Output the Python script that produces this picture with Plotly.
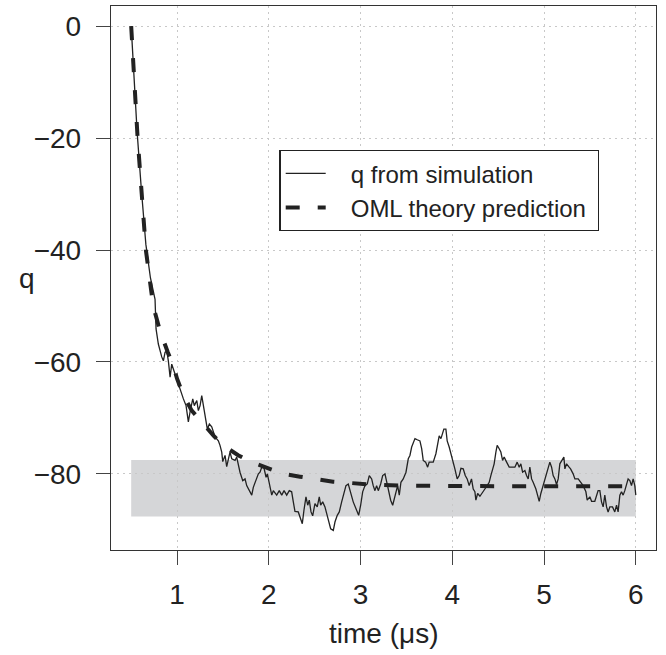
import plotly.graph_objects as go

# OML theory prediction
theory_t = [0.5, 0.53, 0.57, 0.615, 0.66, 0.74, 0.815, 0.9, 0.96, 1.0, 1.07, 1.16, 1.27,
            1.4, 1.5, 1.67, 1.81, 2.0, 2.16, 2.34, 2.52, 2.7, 2.87, 3.1, 3.5, 4.0, 4.5,
            5.0, 5.5, 6.0]
theory_q = [0, -10, -20, -30, -40, -50, -54.5, -58.3, -60.7, -63, -66, -68.7, -70.8,
            -73.2, -74.9, -76.7, -77.9, -79.1, -80.0, -80.5, -81.0, -81.4, -81.6, -81.9,
            -82.1, -82.2, -82.2, -82.2, -82.2, -82.2]

# q from simulation
sim_t = [0.5, 0.53, 0.565, 0.61, 0.66, 0.71, 0.76, 0.771, 0.796, 0.833, 0.851, 0.869, 0.888,
         0.905, 0.924, 0.942, 0.960, 0.989, 1.014, 1.040, 1.069, 1.098, 1.123, 1.142, 1.171,
         1.188, 1.215, 1.232, 1.251, 1.269, 1.286, 1.316, 1.330, 1.352, 1.378, 1.414, 1.450,
         1.468, 1.487, 1.498, 1.523, 1.541, 1.559, 1.577, 1.596, 1.632, 1.650, 1.668, 1.686,
         1.716, 1.741, 1.759, 1.788, 1.814, 1.831, 1.861, 1.886, 1.904, 1.923, 1.948, 1.970,
         1.984, 2.005, 2.032, 2.049, 2.086, 2.114, 2.141, 2.166, 2.195, 2.223, 2.249, 2.267,
         2.285, 2.321, 2.348, 2.365, 2.383, 2.405, 2.424, 2.441, 2.460, 2.478, 2.503, 2.528,
         2.550, 2.565, 2.587, 2.612, 2.631, 2.659, 2.674, 2.703, 2.721, 2.746, 2.768, 2.794,
         2.819, 2.841, 2.866, 2.885, 2.920, 2.957, 2.979, 3.001, 3.023, 3.048, 3.073, 3.095,
         3.121, 3.138, 3.157, 3.175, 3.193, 3.219, 3.241, 3.266, 3.284, 3.302, 3.328, 3.350,
         3.367, 3.386, 3.404, 3.422, 3.440, 3.465, 3.495, 3.520, 3.538, 3.557, 3.574, 3.593,
         3.618, 3.647, 3.666, 3.683, 3.709, 3.731, 3.748, 3.792, 3.821, 3.840, 3.857, 3.876,
         3.894, 3.908, 3.930, 3.944, 3.966, 3.992, 4.010, 4.028, 4.053, 4.075, 4.094, 4.119,
         4.141, 4.162, 4.184, 4.209, 4.228, 4.246, 4.257, 4.276, 4.301, 4.330, 4.355, 4.380,
         4.402, 4.420, 4.439, 4.456, 4.475, 4.489, 4.511, 4.529, 4.548, 4.565, 4.592, 4.620,
         4.682, 4.707, 4.729, 4.747, 4.766, 4.791, 4.809, 4.827, 4.845, 4.864, 4.881, 4.911,
         4.929, 4.947, 4.965, 4.990, 5.009, 5.027, 5.045, 5.063, 5.082, 5.099, 5.118, 5.136,
         5.154, 5.172, 5.183, 5.202, 5.216, 5.227, 5.245, 5.273, 5.289, 5.317, 5.336, 5.372,
         5.398, 5.426, 5.456, 5.470, 5.499, 5.518, 5.553, 5.572, 5.589, 5.608, 5.626, 5.644,
         5.662, 5.681, 5.698, 5.717, 5.746, 5.771, 5.790, 5.807, 5.826, 5.844, 5.862, 5.880,
         5.899, 5.916, 5.935, 5.953, 5.971, 5.989, 6.000]
sim_q = [0, -9, -19, -29, -39, -45, -48.8, -54.1, -56.8, -59.1, -59.8, -58.3, -58.0,
         -59.8, -62.7, -60.4, -61.3, -63.0, -63.9, -65.4, -66.6, -67.8, -70.7, -68.9, -66.6,
         -67.8, -66.9, -68.7, -67.8, -66.0, -67.8, -70.7, -72.0, -71.1, -71.6, -73.4, -74.1,
         -74.9, -76.1, -77.8, -76.7, -78.7, -77.6, -76.1, -77.3, -77.6, -77.0, -78.5, -79.7,
         -81.2, -80.9, -82.1, -83.0, -83.8, -82.4, -80.9, -80.0, -79.7, -78.8, -79.0, -80.6,
         -80.0, -81.5, -83.8, -83.0, -83.8, -83.0, -83.8, -83.0, -83.8, -83.0, -83.2, -85.0,
         -86.7, -86.8, -88.0, -88.9, -86.5, -84.1, -85.6, -84.7, -86.8, -87.5, -85.3, -85.9,
         -84.1, -85.6, -85.0, -85.9, -87.1, -88.9, -89.8, -90.1, -88.6, -87.4, -86.8, -85.0,
         -83.5, -82.1, -81.8, -83.0, -85.0, -86.5, -87.4, -85.6, -83.2, -82.1, -81.8, -80.3,
         -80.9, -82.1, -83.0, -82.1, -83.0, -81.8, -80.3, -80.0, -81.5, -83.2, -84.7, -85.6,
         -84.4, -83.2, -82.1, -83.8, -81.5, -80.9, -79.7, -77.3, -76.7, -75.2, -74.3, -73.7,
         -73.9, -74.1, -75.5, -77.6, -77.9, -78.8, -77.9, -77.9, -76.4, -74.6, -73.2, -73.7,
         -72.9, -72.0, -72.0, -74.1, -75.2, -76.7, -77.9, -79.1, -80.9, -80.3, -79.0, -79.1,
         -80.3, -80.9, -82.1, -80.9, -82.7, -83.2, -84.7, -83.5, -84.0, -83.2, -82.7, -82.1,
         -81.5, -80.3, -79.4, -78.2, -76.1, -74.9, -75.5, -76.1, -77.6, -77.0, -77.9, -78.8,
         -78.8, -77.9, -78.8, -78.2, -79.7, -79.4, -80.3, -80.9, -78.8, -80.9, -81.5, -82.7,
         -83.8, -84.9, -83.5, -82.1, -80.9, -79.7, -78.6, -77.9, -78.8, -80.3, -80.9, -81.9,
         -80.9, -78.2, -77.9, -77.3, -77.0, -79.1, -78.2, -78.8, -79.1, -80.0, -80.9, -80.9,
         -81.5, -82.1, -83.2, -84.7, -84.1, -84.9, -84.9, -83.8, -83.0, -83.0, -85.0, -85.9,
         -83.8, -85.9, -86.8, -85.9, -85.9, -86.8, -85.6, -86.8, -83.8, -83.2, -83.8, -83.0,
         -81.9, -80.9, -81.2, -82.1, -80.9, -82.1, -83.8]

# shaded band (steady-state range)
band_t = [0.5, 6.0]
band_q = [-87.6, -77.5]

x_ticks = [1, 2, 3, 4, 5, 6]
y_ticks = [0, -20, -40, -60, -80]

FONT = "Liberation Sans, Arial, Helvetica, sans-serif"
INK = "#222222"
PAD = "\u00a0\u00a0\u00a0"

fig = go.Figure()
fig.add_trace(go.Scatter(x=sim_t, y=sim_q, mode="lines",
                         name=PAD + "q from simulation",
                         line=dict(color=INK, width=1.3)))
fig.add_trace(go.Scatter(x=theory_t, y=theory_q, mode="lines",
                         name=PAD + "OML theory prediction\u00a0",
                         line=dict(color=INK, width=4, dash="14px,18px")))

fig.add_shape(type="rect", xref="x", yref="y", x0=band_t[0], x1=band_t[1],
              y0=band_q[0], y1=band_q[1], fillcolor="#d5d6d8", line_width=0, layer="below")

axis_common = dict(showline=True, linecolor="#333333", linewidth=1.4, mirror=True,
                   ticks="outside", ticklen=14, tickwidth=1.3, tickcolor="#444444",
                   showgrid=True, gridcolor="#c8c8c8", griddash="2px,4px", gridwidth=1,
                   zeroline=False, automargin=False,
                   tickfont=dict(family=FONT, size=28, color=INK))
fig.update_xaxes(range=[0.28, 6.22], tickvals=x_ticks, ticktext=[str(v) for v in x_ticks],
                 ticklabelstandoff=5, **axis_common)
fig.update_yaxes(range=[-93.6, 3.6], tickvals=y_ticks,
                 ticktext=[("\u2212" + str(-v)) if v < 0 else str(v) for v in y_ticks],
                 ticklabelstandoff=9, **axis_common)

fig.add_annotation(text="time (\u03bcs)", xref="paper", yref="paper", x=0.5, y=-0.154,
                   xanchor="center", yanchor="middle", showarrow=False,
                   font=dict(family=FONT, size=28, color=INK))
fig.add_annotation(text="q", xref="paper", yref="paper", x=-0.154, y=0.5,
                   xanchor="center", yanchor="middle", showarrow=False,
                   font=dict(family=FONT, size=28, color=INK))

fig.update_layout(
    width=666, height=655,
    margin=dict(l=111, r=10, t=6, b=105, autoexpand=False),
    paper_bgcolor="white", plot_bgcolor="white",
    showlegend=True,
    legend=dict(x=0.309, y=0.7353, xanchor="left", yanchor="top",
                bgcolor="white", bordercolor=INK, borderwidth=1.3,
                font=dict(family=FONT, size=24, color=INK),
                tracegroupgap=0, itemwidth=40),
)

fig.write_html("out.html", config={"displayModeBar": False},
               post_script="document.body.style.margin='0px';document.body.style.padding='0px';")
